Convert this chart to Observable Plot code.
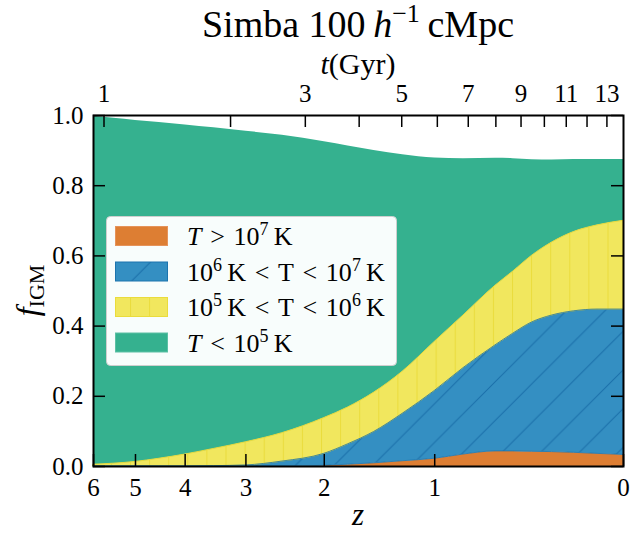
<!DOCTYPE html>
<html><head><meta charset="utf-8">
<script src="https://cdn.jsdelivr.net/npm/d3@7"></script>
<script src="https://cdn.jsdelivr.net/npm/@observablehq/plot@0.6"></script>
<style>
body{margin:0;background:#fff;}
#chart svg{font-family:"Liberation Serif",serif;overflow:visible;}
</style></head><body><div id="chart"></div>
<script>
// ---- data ----
const redshift = [6,5.5,5,4.5,4,3.5,3,2.5,2,1.75,1.5,1.25,1,0.8,0.6,0.5,0.4,0.3,0.2,0.1,0];
const fHot     = [0,0,0,0,0,0,0,0,0.002,0.005,0.009,0.015,0.022,0.034,0.043,0.043,0.042,0.041,0.039,0.036,0.033];
const fWarmHot = [0,0,0,0,0,0.001,0.003,0.014,0.034,0.058,0.089,0.135,0.193,0.246,0.302,0.335,0.368,0.389,0.403,0.411,0.414];
const fWarm    = [0.005,0.008,0.013,0.022,0.034,0.049,0.066,0.081,0.102,0.105,0.112,0.12,0.14,0.15,0.17,0.177,0.19,0.208,0.226,0.24,0.253];
const fCool    = [0.993,0.984,0.973,0.958,0.939,0.915,0.886,0.849,0.787,0.745,0.69,0.618,0.524,0.447,0.363,0.322,0.274,0.235,0.207,0.188,0.175];
const phases = ["hot","warmhot","warm","cool"];
const zTicks = [6,5,4,3,2,1,0];
const yTicks = [0,0.2,0.4,0.6,0.8,1.0];
const tTicks = [1,2,3,4,5,6,7,8,9,10,11,12,13];
const tLabels = [1,3,5,7,9,11,13];
// cosmology for the top (age) axis
const H0 = 68, Om = 0.3, OL = 0.7;

// ---- styles ----
const fillOf = {hot:"#DD7E33", warmhot:"url(#hatchBlue)", warm:"url(#hatchYellow)", cool:"#35B18F"};
const W = 644, H = 534, mL = 93, mR = 21, mT = 115, mB = 68;
const pw = W - mL - mR, ph = H - mT - mB;

const tH = 977.8 / H0;
const onePlusZ = t => 1 / Math.pow(Math.sqrt(Om/OL) * Math.sinh(1.5*Math.sqrt(OL)*t/tH), 2/3);

const series = [fHot, fWarmHot, fWarm, fCool];
const rows = phases.flatMap((p,k) => redshift.map((z,i) => ({z, phase:p, f: series[k][i]})));

const topMap = new Map(tLabels.map(t => [onePlusZ(t), String(t)]));

const chart = Plot.plot({
  width: W, height: H,
  marginLeft: mL, marginRight: mR, marginTop: mT, marginBottom: mB,
  style: {fontFamily: "Liberation Serif", fontSize: "25px", color: "black", background: "white"},
  x: {type: "log", domain: [7, 1], axis: null},
  y: {domain: [0, 1], axis: null},
  color: {type: "identity"},
  marks: [
    Plot.areaY(rows, {x: d => d.z + 1, y: "f", z: "phase", fill: d => fillOf[d.phase], curve: "monotone-x"}),
    Plot.areaY(rows, {x: d => d.z + 1, y: "f", z: "phase", fill: "none",
      stroke: d => d.phase === "warm" ? "#E8DA3A" : "none", strokeWidth: 1, curve: "monotone-x"}),
    Plot.areaY(rows, {x: d => d.z + 1, y: "f", z: "phase", fill: "none",
      stroke: d => d.phase === "warmhot" ? "#1C74AE" : "none", strokeWidth: 1, strokeOpacity: 0.8, curve: "monotone-x"}),
    // inward ticks
    Plot.tickX(zTicks, {x: d => d + 1, insetTop: ph - 12, stroke: "black", strokeWidth: 1.5}),
    Plot.tickX(tTicks, {x: onePlusZ, insetBottom: ph - 12, stroke: "black", strokeWidth: 1.5}),
    Plot.tickY(yTicks, {y: d => d, insetRight: pw - 12, stroke: "black", strokeWidth: 1.5}),
    Plot.tickY(yTicks, {y: d => d, insetLeft: pw - 12, stroke: "black", strokeWidth: 1.5}),
    // tick labels
    Plot.axisX(zTicks.map(z => z + 1), {anchor: "bottom", tickSize: 0, tickPadding: 12, fontSize: 25, label: null,
      tickFormat: d => String(Math.round(d - 1))}),
    Plot.axisX([...topMap.keys()], {anchor: "top", tickSize: 0, tickPadding: 14, fontSize: 25, label: null,
      tickFormat: d => topMap.get(d)}),
    Plot.axisY(yTicks, {anchor: "left", tickSize: 0, tickPadding: 10, fontSize: 25, label: null,
      tickFormat: d3.format(".1f")}),
    Plot.frame({stroke: "black", strokeWidth: 2})
  ]
});
document.getElementById("chart").appendChild(chart);

// ---- patterns, titles, legend ----
const svg = d3.select(chart);
const defs = svg.insert("defs", ":first-child");
const py = defs.append("pattern").attr("id","hatchYellow").attr("patternUnits","userSpaceOnUse")
  .attr("x", 15.4).attr("y", 0).attr("width", 19.1).attr("height", 20);
py.append("rect").attr("width", 19.1).attr("height", 20).attr("fill", "#F1E75E");
py.append("line").attr("x1",0.5).attr("x2",0.5).attr("y1",0).attr("y2",20).attr("stroke","#EADC3C").attr("stroke-width",1);
const s = 38.7;
const pb = defs.append("pattern").attr("id","hatchBlue").attr("patternUnits","userSpaceOnUse")
  .attr("x", 25.6).attr("y", 0).attr("width", s).attr("height", s);
pb.append("rect").attr("width", s).attr("height", s).attr("fill", "#348FC2");
pb.append("path").attr("d", `M-2,2 L2,-2 M0,${s} L${s},0 M${s-2},${s+2} L${s+2},${s-2}`)
  .attr("stroke","#1A6FAA").attr("stroke-width",1).attr("fill","none");

function richText(g, parts, attrs) {
  const t = g.append("text");
  for (const [k,v] of Object.entries(attrs)) t.attr(k, v);
  for (const p of parts) {
    const ts = t.append("tspan").text(p.text);
    if (p.italic) ts.attr("font-style", "italic");
    if (p.size) ts.attr("font-size", p.size);
    if (p.dy) ts.attr("dy", p.dy);
  }
  return t;
}

const cx = mL + pw / 2;
richText(svg, [
  {text: "Simba 100\u2009"}, {text: "h", italic: true},
  {text: "\u22121", size: 26, dy: -15}, {text: "\u2009cMpc", dy: 15}
], {x: cx, y: 37, "text-anchor": "middle", "font-size": 38, fill: "black"});
richText(svg, [{text: "t", italic: true}, {text: "(Gyr)"}],
  {x: cx, y: 74, "text-anchor": "middle", "font-size": 30, fill: "black"});
richText(svg, [{text: "z", italic: true}],
  {x: cx, y: 525, "text-anchor": "middle", "font-size": 31, fill: "black"});
richText(svg, [{text: "f", italic: true}, {text: "IGM", size: 22, dy: 6}],
  {transform: `translate(38,${mT + ph/2}) rotate(-90)`, "text-anchor": "middle", "font-size": 32, fill: "black"});

// legend
const sp = "\u2004";
const leg = svg.append("g").attr("text-anchor", "start");
leg.append("rect").attr("x", 106.5).attr("y", 216.5).attr("width", 290).attr("height", 149).attr("rx", 4)
  .attr("fill", "white").attr("fill-opacity", 0.97).attr("stroke", "#cfcfcf").attr("stroke-width", 1);
const legItems = [
  {fill: fillOf.hot, stroke: "#E5935A", label: [{text:"T", italic:true},{text:`${sp}>${sp}10`},{text:"7", size:18, dy:-10},{text:"\u2009K", dy:10}]},
  {fill: fillOf.warmhot, stroke: "#1C74AE", label: [{text:"10"},{text:"6", size:18, dy:-10},{text:`\u2009K${sp}<${sp}T${sp}<${sp}10`, dy:10},{text:"7", size:18, dy:-10},{text:"\u2009K", dy:10}]},
  {fill: fillOf.warm, stroke: "#EADC3C", label: [{text:"10"},{text:"5", size:18, dy:-10},{text:`\u2009K${sp}<${sp}T${sp}<${sp}10`, dy:10},{text:"6", size:18, dy:-10},{text:"\u2009K", dy:10}]},
  {fill: fillOf.cool, stroke: "#5CC0A4", label: [{text:"T", italic:true},{text:`${sp}<${sp}10`},{text:"5", size:18, dy:-10},{text:"\u2009K", dy:10}]}
];
legItems.forEach((it, i) => {
  const y0 = 226.5 + i * 35.5;
  leg.append("rect").attr("x", 115.5).attr("y", y0).attr("width", 52).attr("height", 19)
    .attr("fill", it.fill).attr("stroke", it.stroke).attr("stroke-width", 1);
  richText(leg, it.label, {x: 187, y: y0 + 18.5, "font-size": 26, fill: "black", "text-anchor": "start"});
});
</script></body></html>
